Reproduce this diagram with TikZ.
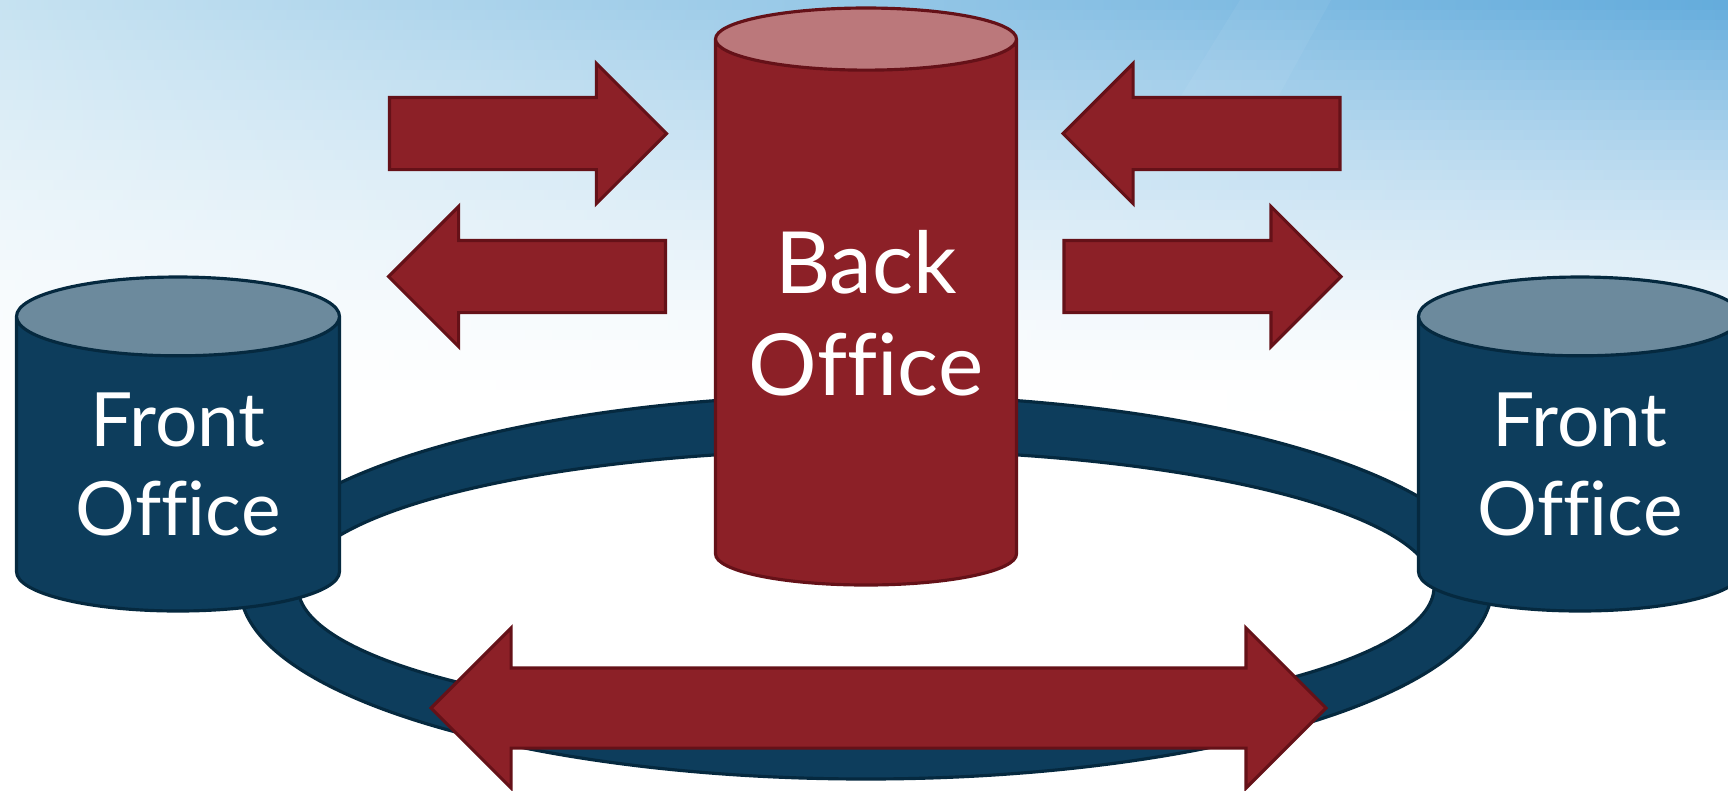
\documentclass[tikz,border=0pt]{standalone}
\usepackage{fontspec}
\setmainfont{Lato}[Ligatures=NoCommon]
\usepackage{xcolor}
\usepackage{tikz}
\usetikzlibrary{arrows.meta, positioning, shapes.geometric, shapes.arrows}
\definecolor{officered}{HTML}{8C2027}
\definecolor{officeredline}{HTML}{651118}
\definecolor{officeredtop}{HTML}{BB787B}
\definecolor{officenavy}{HTML}{0D3D5C}
\definecolor{officenavyline}{HTML}{05293F}
\definecolor{officenavytop}{HTML}{6C8A9D}
\definecolor{skypale}{HTML}{C6E2F1}
\definecolor{skymid}{HTML}{B2D6EA}
\definecolor{skydeep}{HTML}{64ACDC}

\begin{document}
\begin{tikzpicture}[
    drum/.style={cylinder, anchor=shape center, shape border rotate=90, draw, outer sep=0pt, inner sep=0pt, line width=0.9pt, text=white, align=center, cylinder uses custom fill},
    frontdrum/.style={drum, draw=officenavyline, cylinder body fill=officenavy, cylinder end fill=officenavytop, minimum width=3.23cm, minimum height=3.34cm, shape aspect=0.385, font=\fontsize{21.3pt}{25.3pt}\selectfont},
    backdrum/.style={drum, draw=officeredline, cylinder body fill=officered, cylinder end fill=officeredtop, minimum width=3.01cm, minimum height=5.77cm, shape aspect=0.265, font=\fontsize{24.4pt}{29pt}\selectfont},
    onearr/.style={single arrow, anchor=tip, draw=officeredline, fill=officered, line width=0.9pt, outer sep=0pt, inner xsep=0pt, inner ysep=0.345cm, single arrow head extend=0.34cm, single arrow tip angle=90, single arrow head indent=0pt, minimum height=2.77cm},
    twoarr/.style={double arrow, draw=officeredline, fill=officered, line width=0.9pt, outer sep=0pt, inner xsep=0pt, inner ysep=0.385cm, double arrow head extend=0.40cm, double arrow tip angle=90, double arrow head indent=0pt, minimum height=8.95cm},
    ring/.style={draw=officenavyline, fill=officenavy, line width=0.9pt, even odd rule},
]
\useasboundingbox (0,0) rectangle (17.28,-7.90);
\clip (0,0) rectangle (17.28,-7.90);

% Sky
\fill[white] (0,0) rectangle (17.28,-7.90);
\foreach \i in {0,...,39} {
    \pgfmathsetmacro{\p}{100*(1-\i/40)^1.5}
    \fill[left color=skypale!\p!white, middle color=skymid!\p!white, right color=skydeep!\p!white] (0,-\i/10) rectangle (17.28,-\i/10-0.2);
}
\fill[white, opacity=0.05] (12.4,0) -- (13.31,0) -- (12.6,-1.3) -- (11.6,-1.3) -- cycle;

% Ring
\path[ring] (8.66,-5.87) ellipse [x radius=6.26, y radius=1.92] (8.66,-5.87) ellipse [x radius=5.68, y radius=1.37];

% Back office
\node[backdrum] (back) at (8.66,-2.965) {Back\\Office};

% Front offices
\node[frontdrum] (frontL) at (1.78,-4.44) {Front\\Office};
\node[frontdrum] (frontR) at (15.80,-4.44) {Front\\Office};

% Arrows left of back office
\node[onearr] (arrLA) at (6.665,-1.335) {};
\node[onearr, shape border rotate=180] (arrLB) at (3.885,-2.765) {};

% Arrows right of back office
\node[onearr, shape border rotate=180] (arrRA) at (10.63,-1.335) {};
\node[onearr] (arrRB) at (13.41,-2.765) {};

% Arrow across ring
\node[twoarr] (arrRing) at (8.785,-7.08) {};

\end{tikzpicture}
\end{document}
